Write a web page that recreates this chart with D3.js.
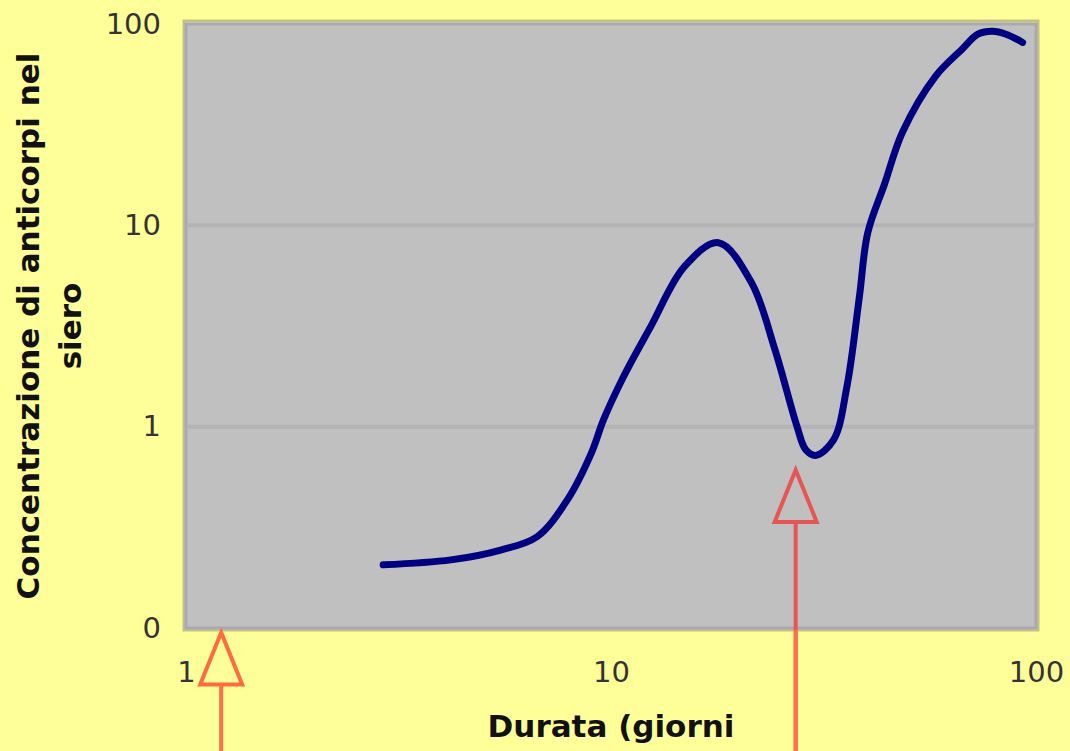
<!DOCTYPE html>
<html>
<head>
<meta charset="utf-8">
<script src="https://cdn.jsdelivr.net/npm/d3@7"></script>
<style>
  body { margin: 0; background: #ffff99; }
  svg { display: block; }
  .tick text { font-family: "DejaVu Sans", Verdana, sans-serif; font-size: 29px; fill: #333; }
  .title { font-family: "DejaVu Sans", Verdana, sans-serif; font-size: 31px; font-weight: bold; fill: #111; }
</style>
</head>
<body>
<div id="chart"></div>
<script>
// antibody curve
const days = [2.91, 4.2, 5.5, 6.7, 7.9, 9.0, 9.6, 10.7, 12.4, 14.9, 17.9, 21.4, 24.3, 27.4, 28.7, 30.3, 33.4, 35.9, 38.4, 40.2, 44, 48.5, 58, 67, 73, 79, 85, 93];
const conc = [0.206, 0.218, 0.244, 0.284, 0.434, 0.743, 1.08, 1.77, 3.14, 6.25, 8.2, 5.2, 2.42, 1.0, 0.77, 0.72, 0.86, 1.58, 4.4, 9.2, 16, 29, 55, 75, 89, 92, 89, 81];

const xTicks = [1, 10, 100];
const xTickLabels = ["1", "10", "100"];
const yTicks = [0.1, 1, 10, 100];
const yTickLabels = ["0", "1", "10", "100"];

// red arrows (injections): day and where the tip sits
const arrowDays = [1.21, 27.2];
const arrowTips = [0.095, 0.61];

const xTitle = "Durata (giorni";
const yTitle = ["Concentrazione di anticorpi nel", "siero"];

const W = 1070, H = 751;
const margin = { top: 24, right: 34, bottom: 123, left: 186 },
  width = W - margin.left - margin.right,
  height = H - margin.top - margin.bottom;

const x = d3.scaleLog().domain([1, 100]).range([0, width]);
const y = d3.scaleLog().domain([0.1, 100]).range([height, 0]);

const svg = d3.select("#chart").append("svg")
  .attr("width", W)
  .attr("height", H);

svg.append("rect").attr("width", W).attr("height", H).attr("fill", "#ffff99");

const g = svg.append("g").attr("transform", `translate(${margin.left},${margin.top})`);

// plot area
g.append("rect")
  .attr("x", -2).attr("y", -3)
  .attr("width", width + 4).attr("height", height + 5)
  .attr("fill", "none")
  .attr("stroke", "#c2c287")
  .attr("stroke-width", 3);
g.append("rect")
  .attr("width", width).attr("height", height)
  .attr("fill", "#c0c0c0")
  .attr("stroke", "#a9a9b4")
  .attr("stroke-width", 3);

// gridlines
g.append("g")
  .selectAll("line")
  .data(yTicks.slice(1, 3))
  .join("line")
  .attr("x1", 2).attr("x2", width - 2)
  .attr("y1", d => y(d)).attr("y2", d => y(d))
  .attr("stroke", "#b3b3b3")
  .attr("stroke-width", 4);

// axes
const yAxis = g.append("g")
  .call(d3.axisLeft(y).tickValues(yTicks).tickSize(0).tickPadding(25)
    .tickFormat((d, i) => yTickLabels[i]));
yAxis.select(".domain").remove();

const xAxis = g.append("g")
  .attr("transform", `translate(0,${height})`)
  .call(d3.axisBottom(x).tickValues(xTicks).tickSize(0).tickPadding(33)
    .tickFormat((d, i) => xTickLabels[i]));
xAxis.select(".domain").remove();

// the curve
const pts = days.map((d, i) => [d, conc[i]]);
g.append("path")
  .datum(pts)
  .attr("fill", "none")
  .attr("stroke", "#000080")
  .attr("stroke-width", 7)
  .attr("stroke-linecap", "round")
  .attr("d", d3.line()
    .x(d => x(d[0]))
    .y(d => y(d[1]))
    .curve(d3.curveCatmullRom.alpha(0.5)));

// arrows
const triH = 52, triW = 42;
const arrows = svg.append("g").attr("transform", `translate(${margin.left},${margin.top})`);
arrowDays.forEach((d, i) => {
  const ax = x(d), ay = y(arrowTips[i]);
  arrows.append("line")
    .attr("x1", ax).attr("x2", ax)
    .attr("y1", ay + triH).attr("y2", H)
    .attr("stroke", i === 0 ? "#ff7048" : "#e85555")
    .attr("stroke-width", 4);
  arrows.append("path")
    .attr("d", `M${ax},${ay}L${ax + triW / 2},${ay + triH}L${ax - triW / 2},${ay + triH}Z`)
    .attr("fill", "none")
    .attr("stroke", i === 0 ? "#ff6a40" : "#e85555")
    .attr("stroke-width", 4)
    .attr("stroke-linejoin", "miter");
});
// lower part of the second arrow sits on yellow
arrows.append("line")
  .attr("x1", x(arrowDays[1])).attr("x2", x(arrowDays[1]))
  .attr("y1", height + 2).attr("y2", H)
  .attr("stroke", "#ff7048")
  .attr("stroke-width", 4);

// titles
svg.append("text")
  .attr("class", "title")
  .attr("x", margin.left + x(10))
  .attr("y", 737)
  .attr("text-anchor", "middle")
  .text(xTitle);

yTitle.forEach((t, i) => {
  svg.append("text")
    .attr("class", "title")
    .attr("transform", `translate(${39 + i * 42},326) rotate(-90)`)
    .attr("text-anchor", "middle")
    .text(t);
});
</script>
</body>
</html>
